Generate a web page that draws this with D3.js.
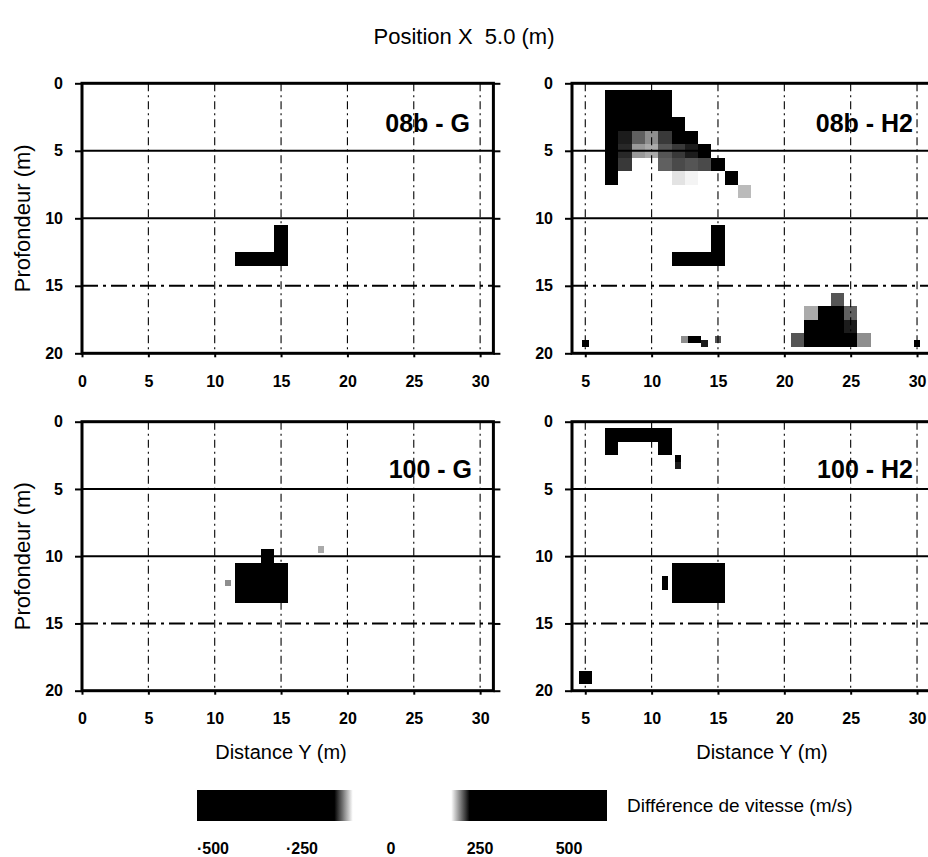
<!DOCTYPE html>
<html>
<head>
<meta charset="utf-8">
<script src="https://cdn.jsdelivr.net/npm/d3@7"></script>
<style>
  body { margin: 0; background: #fff; }
  text { font-family: "Liberation Sans", Arial, Helvetica, sans-serif; fill: #000; white-space: pre; }
</style>
</head>
<body>
<svg id="chart" width="928" height="857"></svg>
<script>
// ---- data ---------------------------------------------------------------
const chartTitle = "Position X  5.0 (m)";
const panelNames = ["08b - G", "08b - H2", "100 - G", "100 - H2"];
const depthTicks = [0, 5, 10, 15, 20];
const distTicksLeft = [0, 5, 10, 15, 20, 25, 30];
const distTicksRight = [5, 10, 15, 20, 25, 30];
const legendTicks = [-500, -250, 0, 250, 500];
const legendTickLabels = ["\u00b7500", "\u00b7250", "0", "250", "500"];
const xTitle = "Distance Y (m)";
const yTitle = "Profondeur (m)";
const legendTitle = "Diff\u00e9rence de vitesse (m/s)";

// velocity difference cells on the 1 m grid: [distance Y, depth, dv (m/s)]
const cells08bG = [
  [12, 13, -450], [13, 13, -450], [14, 13, -450], [15, 13, -450],
  [15, 12, -450], [15, 11, -450]
];
const cells08bH2 = [
  [7, 1, 450], [8, 1, 450], [9, 1, 450], [10, 1, 450], [11, 1, 450],
  [7, 2, 450], [8, 2, 450], [9, 2, 450], [10, 2, 450], [11, 2, 450],
  [7, 3, 450], [8, 3, 450], [9, 3, 450], [10, 3, 450], [11, 3, 450], [12, 3, 450],
  [7, 4, 450], [8, 4, 160], [9, 4, 148], [10, 4, 140], [11, 4, 155], [12, 4, 200], [13, 4, 450],
  [7, 5, 450], [8, 5, 158], [9, 5, 138], [10, 5, 135], [11, 5, 150], [12, 5, 155], [13, 5, 160], [14, 5, 185],
  [7, 6, 450], [8, 6, 155], [11, 6, 148], [12, 6, 152], [13, 6, 150], [14, 6, 152], [15, 6, 450],
  [7, 7, 450], [12, 7, 125], [13, 7, 122], [16, 7, 450],
  [17, 8, 132],
  [12, 13, -450], [13, 13, -450], [14, 13, -450], [15, 13, -450],
  [15, 12, -450], [15, 11, -450],
  [24, 16, 150],
  [22, 17, 135], [23, 17, 170], [24, 17, 178], [25, 17, 148],
  [22, 18, 200], [23, 18, 210], [24, 18, 200], [25, 18, 160],
  [21, 19, 150], [22, 19, 200], [23, 19, 210], [24, 19, 210], [25, 19, 200], [26, 19, 140]
];
const cells100G = [
  [14, 10, -450],
  [12, 11, -450], [13, 11, -450], [14, 11, -450], [15, 11, -450],
  [12, 12, -450], [13, 12, -450], [14, 12, -450], [15, 12, -450],
  [12, 13, -450], [13, 13, -450], [14, 13, -450], [15, 13, -450]
];
const cells100H2 = [
  [7, 1, 450], [8, 1, 450], [9, 1, 450], [10, 1, 450], [11, 1, 450],
  [7, 2, 450], [11, 2, 450],
  [12, 11, -450], [13, 11, -450], [14, 11, -450], [15, 11, -450],
  [12, 12, -450], [13, 12, -450], [14, 12, -450], [15, 12, -450],
  [12, 13, -450], [13, 13, -450], [14, 13, -450], [15, 13, -450],
  [5, 19, 400]
];

// finer 0.5 m cells: [distance Y, depth, dv (m/s)]
const fine08bG = [];
const fine08bH2 = [
  [5, 19.25, 300],
  [12.5, 19, 140], [13, 19, 200], [13.5, 19, 200], [14, 19.25, 160], [15, 19, 150],
  [30, 19.25, 200]
];
const fine100G = [
  [11, 12, 140], [18, 9.5, 135]
];
const fine100H2 = [
  [12, 2.75, 175], [12, 3.25, 160],
  [11, 11.75, 200], [11, 12.25, 170]
];

// ---- layout -------------------------------------------------------------
const panels = [
  { name: panelNames[0], cells: cells08bG, fine: fine08bG, dom: [0, 31], ticks: distTicksLeft,
    x0: 82, x1: 493.4, y0: 83.3, y1: 353.3, labelX: 470, labelY: 132, yTitle: true, xTitle: false },
  { name: panelNames[1], cells: cells08bH2, fine: fine08bH2, dom: [4, 31], ticks: distTicksRight,
    x0: 572, x1: 930.3, y0: 83.3, y1: 353.3, labelX: 913, labelY: 132, yTitle: false, xTitle: false },
  { name: panelNames[2], cells: cells100G, fine: fine100G, dom: [0, 31], ticks: distTicksLeft,
    x0: 82, x1: 493.4, y0: 421.7, y1: 690.7, labelX: 472, labelY: 478, yTitle: true, xTitle: true, titleX: 281 },
  { name: panelNames[3], cells: cells100H2, fine: fine100H2, dom: [4, 31], ticks: distTicksRight,
    x0: 572, x1: 930.3, y0: 421.7, y1: 690.7, labelX: 913, labelY: 478, yTitle: false, xTitle: true, titleX: 762 }
];

// shading of the velocity difference: white near zero, black beyond ±165 m/s
const shade = d3.scaleLinear()
  .domain([-500, -165, -120, 120, 165, 500])
  .range(["#000", "#000", "#fff", "#fff", "#000", "#000"])
  .interpolate(d3.interpolateRgb)
  .clamp(true);

const svg = d3.select("#chart");
const defs = svg.append("defs");

svg.append("text")
  .attr("x", 464).attr("y", 44)
  .attr("text-anchor", "middle")
  .attr("font-size", 22)
  .text(chartTitle);

panels.forEach((p, i) => {
  const xs = d3.scaleLinear().domain(p.dom).range([p.x0, p.x1]);
  const ys = d3.scaleLinear().domain([0, 20]).range([p.y0, p.y1]);
  const g = svg.append("g");

  const clipId = "clip" + i;
  defs.append("clipPath").attr("id", clipId)
    .append("rect")
    .attr("x", p.x0).attr("y", p.y0)
    .attr("width", p.x1 - p.x0).attr("height", p.y1 - p.y0);

  const field = g.append("g").attr("clip-path", `url(#${clipId})`);

  const drawCells = (data, size) => {
    field.selectAll(null)
      .data(data)
      .enter().append("rect")
      .attr("x", d => xs(d[0] - size / 2))
      .attr("y", d => ys(d[1] - size / 2))
      .attr("width", d => xs(d[0] + size / 2) - xs(d[0] - size / 2))
      .attr("height", d => ys(d[1] + size / 2) - ys(d[1] - size / 2))
      .attr("fill", d => shade(d[2]))
      .attr("shape-rendering", "crispEdges");
  };
  drawCells(p.cells, 1);
  drawCells(p.fine, 0.5);

  // grid: dash-dot verticals, heavier horizontals
  const grid = g.append("g").attr("clip-path", `url(#${clipId})`);
  grid.selectAll(null)
    .data(p.ticks.filter(t => t > p.dom[0]))
    .enter().append("line")
    .attr("x1", d => xs(d)).attr("x2", d => xs(d))
    .attr("y1", p.y0).attr("y2", p.y1)
    .attr("stroke", "#000").attr("stroke-width", 1.1)
    .attr("stroke-dasharray", "8,4,2,4");
  grid.selectAll(null)
    .data(depthTicks.filter(t => t > 0 && t < 20))
    .enter().append("line")
    .attr("x1", p.x0).attr("x2", p.x1)
    .attr("y1", d => ys(d)).attr("y2", d => ys(d))
    .attr("stroke", "#000").attr("stroke-width", 2)
    .attr("stroke-dasharray", d => d === 15 ? "16,5,3,5" : null);

  // frame
  g.append("rect")
    .attr("x", p.x0).attr("y", p.y0)
    .attr("width", p.x1 - p.x0).attr("height", p.y1 - p.y0)
    .attr("fill", "none").attr("stroke", "#000").attr("stroke-width", 3);

  // axes
  const yAxis = g.append("g")
    .attr("transform", `translate(${p.x0},0)`)
    .call(d3.axisLeft(ys).tickValues(depthTicks).tickSize(7).tickPadding(12));
  const yAxisR = g.append("g")
    .attr("transform", `translate(${p.x1},0)`)
    .call(d3.axisRight(ys).tickValues(depthTicks).tickSize(7).tickFormat(""));
  const xAxis = g.append("g")
    .attr("transform", `translate(0,${p.y1})`)
    .call(d3.axisBottom(xs).tickValues(p.ticks).tickSize(4).tickPadding(18));
  [yAxis, yAxisR, xAxis].forEach(a => {
    a.select(".domain").remove();
    a.selectAll(".tick line").attr("stroke", "#000").attr("stroke-width", 2);
    a.selectAll(".tick text")
      .attr("font-size", 16).attr("font-weight", "bold")
      .attr("font-family", "'Liberation Sans', Arial, sans-serif")
      .attr("fill", "#000");
  });

  // panel label
  g.append("text")
    .attr("x", p.labelX).attr("y", p.labelY)
    .attr("text-anchor", "end")
    .attr("font-size", 25).attr("font-weight", "bold")
    .text(p.name);

  // axis titles
  if (p.yTitle) {
    g.append("text")
      .attr("transform", `translate(30,${(p.y0 + p.y1) / 2}) rotate(-90)`)
      .attr("text-anchor", "middle")
      .attr("font-size", 22)
      .text(yTitle);
  }
  if (p.xTitle) {
    g.append("text")
      .attr("x", p.titleX).attr("y", 759)
      .attr("text-anchor", "middle")
      .attr("font-size", 20)
      .text(xTitle);
  }
});

// ---- colour bar ---------------------------------------------------------
const lx = d3.scaleLinear().domain([-500, 500]).range([213, 569]);
const grad = defs.append("linearGradient").attr("id", "dvGrad")
  .attr("x1", "0%").attr("x2", "100%").attr("y1", "0%").attr("y2", "0%");
d3.range(-500, 501, 5).forEach(v => {
  grad.append("stop")
    .attr("offset", ((v + 500) / 1000 * 100) + "%")
    .attr("stop-color", shade(v));
});
svg.append("rect")
  .attr("x", 197).attr("y", 790)
  .attr("width", 410).attr("height", 31)
  .attr("fill", "url(#dvGrad)");
svg.append("g").selectAll(null)
  .data(legendTicks)
  .enter().append("text")
  .attr("x", d => lx(d)).attr("y", 854)
  .attr("text-anchor", "middle")
  .attr("font-size", 16).attr("font-weight", "bold")
  .text((d, i) => legendTickLabels[i]);
svg.append("text")
  .attr("x", 627).attr("y", 812)
  .attr("font-size", 19)
  .text(legendTitle);
</script>
</body>
</html>
